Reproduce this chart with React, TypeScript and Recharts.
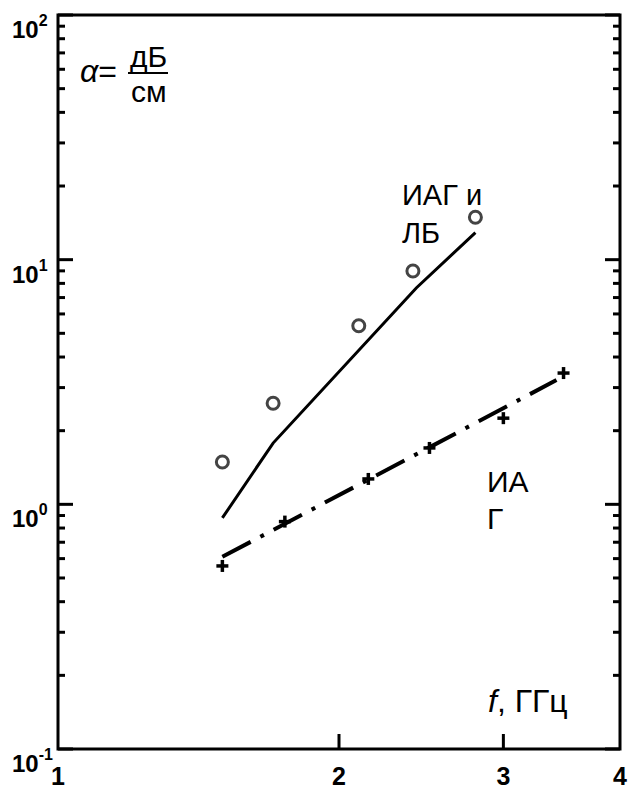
import {
  ComposedChart,
  Line,
  ReferenceArea,
  Scatter,
  XAxis,
  YAxis,
} from "recharts";

// ИАГ и ЛБ: measured points (circles) and fit line
const F_IAG_LB = [1.5, 1.7, 2.1, 2.4, 2.8];
const A_IAG_LB = [1.49, 2.59, 5.37, 8.99, 14.9];
const F_IAG_LB_FIT = [1.5, 1.7, 2.42, 2.8];
const A_IAG_LB_FIT = [0.88, 1.78, 7.66, 12.9];

// ИАГ: measured points (crosses) and fit line
const F_IAG = [1.5, 1.75, 2.15, 2.5, 3.0, 3.48];
const A_IAG = [0.56, 0.85, 1.27, 1.7, 2.25, 3.44];
const F_IAG_FIT = [1.5, 3.42];
const A_IAG_FIT = [0.61, 3.22];

const X_TICKS = [1, 2, 3, 4];
const Y_TICKS = [
  0.1, 0.2, 0.3, 0.4, 0.5, 0.6, 0.7, 0.8, 0.9,
  1, 2, 3, 4, 5, 6, 7, 8, 9,
  10, 20, 30, 40, 50, 60, 70, 80, 90, 100,
];

const W = 630;
const H = 790;
const M = { top: 15, right: 9, left: 57, bottom: 11 };
const X_AXIS_H = 30;
const Y_AXIS_W = 1;
const PLOT_L = M.left + Y_AXIS_W;
const PLOT_R = W - M.right - Y_AXIS_W;
const PLOT_B = H - M.bottom - X_AXIS_H;
const FONT = "Arial, 'Liberation Sans', Helvetica, sans-serif";

const toPts = (fs: number[], as: number[]) => fs.map((f, i) => ({ f, a: as[i] }));

const isMajor = (v: number) => Math.abs(Math.log10(v) - Math.round(Math.log10(v))) < 1e-6;

function LeftTick(props: any) {
  const { y, payload } = props;
  const v = payload.value as number;
  const major = isMajor(v);
  const exp = Math.round(Math.log10(v));
  return (
    <g>
      <line x1={PLOT_L} x2={PLOT_L + (major ? 15 : 7)} y1={y} y2={y} stroke="#000" strokeWidth={3} />
      {major && (
        <text x={12} y={y + 23} fontFamily={FONT} fontWeight={700} fontSize={24} fill="#000">
          10
          <tspan dy={-12} fontSize={16}>
            {exp}
          </tspan>
        </text>
      )}
    </g>
  );
}

function RightTick(props: any) {
  const { y, payload } = props;
  const major = isMajor(payload.value);
  return (
    <line x1={PLOT_R - (major ? 15 : 7)} x2={PLOT_R} y1={y} y2={y} stroke="#000" strokeWidth={3} />
  );
}

function BottomTick(props: any) {
  const { x, payload } = props;
  const v = payload.value as number;
  const inner = v !== X_TICKS[0] && v !== X_TICKS[X_TICKS.length - 1];
  return (
    <g>
      {inner && <line x1={x} x2={x} y1={PLOT_B} y2={PLOT_B - 15} stroke="#000" strokeWidth={3} />}
      <text x={x} y={PLOT_B + 36} textAnchor="middle" fontFamily={FONT} fontWeight={700} fontSize={25} fill="#000">
        {v}
      </text>
    </g>
  );
}

const Ring = (p: any) => (
  <circle cx={p.cx} cy={p.cy} r={6} fill="none" stroke="#444" strokeWidth={3} />
);

const Cross = (p: any) => (
  <g stroke="#000" strokeWidth={3.5}>
    <line x1={p.cx - 6} x2={p.cx + 6} y1={p.cy} y2={p.cy} />
    <line x1={p.cx} x2={p.cx} y1={p.cy - 6} y2={p.cy + 6} />
  </g>
);

export default function App() {
  return (
    <div style={{ position: "absolute", left: 0, top: 0, width: W, height: H, background: "#fff" }}>
      <ComposedChart width={W} height={H} margin={M}>
        <XAxis
          dataKey="f"
          type="number"
          scale="log"
          domain={[1, 4]}
          ticks={X_TICKS}
          interval={0}
          allowDataOverflow
          axisLine={false}
          tickLine={false}
          height={X_AXIS_H}
          tick={<BottomTick />}
        />
        <YAxis
          dataKey="a"
          type="number"
          scale="log"
          domain={[0.1, 100]}
          ticks={Y_TICKS}
          interval={0}
          allowDataOverflow
          axisLine={false}
          tickLine={false}
          width={Y_AXIS_W}
          tick={<LeftTick />}
        />
        <YAxis
          yAxisId="right"
          orientation="right"
          type="number"
          scale="log"
          domain={[0.1, 100]}
          ticks={Y_TICKS}
          interval={0}
          allowDataOverflow
          axisLine={false}
          tickLine={false}
          width={Y_AXIS_W}
          tick={<RightTick />}
        />
        <ReferenceArea x1={1} x2={4} y1={0.1} y2={100} fill="none" stroke="#000" strokeWidth={3} />
        <Line
          data={toPts(F_IAG_LB_FIT, A_IAG_LB_FIT)}
          dataKey="a"
          stroke="#000"
          strokeWidth={3}
          dot={false}
          type="linear"
          isAnimationActive={false}
        />
        <Line
          data={toPts(F_IAG_FIT, A_IAG_FIT)}
          dataKey="a"
          stroke="#000"
          strokeWidth={4}
          strokeDasharray="32 11 4 11"
          dot={false}
          type="linear"
          isAnimationActive={false}
        />
        <Scatter data={toPts(F_IAG_LB, A_IAG_LB)} dataKey="a" shape={Ring} isAnimationActive={false} />
        <Scatter data={toPts(F_IAG, A_IAG)} dataKey="a" shape={Cross} isAnimationActive={false} />
      </ComposedChart>
      <svg
        width={W}
        height={H}
        style={{ position: "absolute", left: 0, top: 0, pointerEvents: "none" }}
        fontFamily={FONT}
        fill="#000"
      >
        <text x={80} y={82} fontSize={32}>
          <tspan fontStyle="italic">α</tspan>=
        </text>
        <text x={130} y={67} fontSize={30}>дБ</text>
        <line x1={128} x2={168} y1={73} y2={73} stroke="#000" strokeWidth={2} />
        <text x={131} y={102} fontSize={30}>см</text>
        <text x={402} y={205} fontSize={29}>ИАГ и</text>
        <text x={402} y={243} fontSize={29}>ЛБ</text>
        <text x={487} y={492} fontSize={30}>ИА</text>
        <text x={487} y={529} fontSize={30}>Г</text>
        <text x={488} y={712} fontSize={32}>
          <tspan fontStyle="italic">f</tspan>, ГГц
        </text>
      </svg>
    </div>
  );
}
